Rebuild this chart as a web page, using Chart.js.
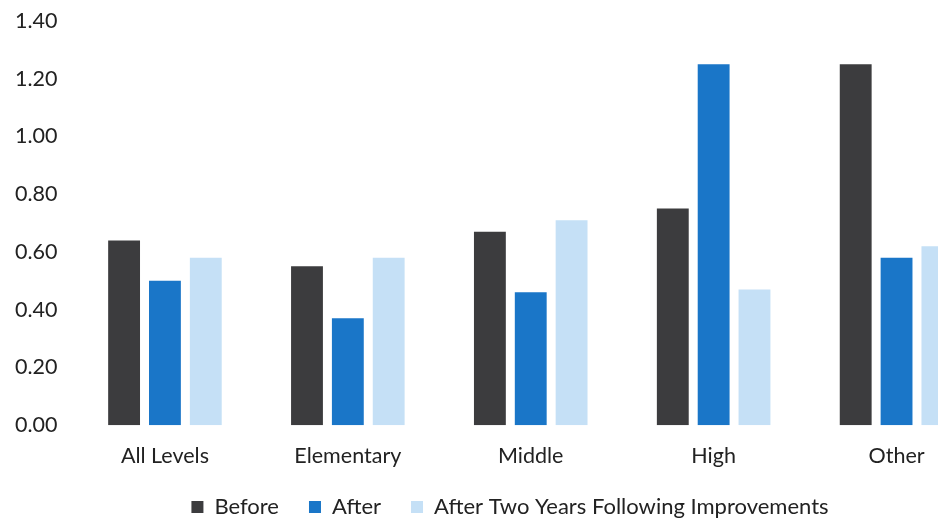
<!DOCTYPE html>
<html>
<head>
<meta charset="utf-8">
<script src="https://cdn.jsdelivr.net/npm/chart.js@4/dist/chart.umd.min.js"></script>
<style>
  html, body { margin: 0; padding: 0; background: #ffffff; overflow: hidden; }
  #wrap { position: relative; width: 1020px; height: 540px; }
</style>
</head>
<body>
<div id="wrap"><canvas id="c"></canvas></div>
<script>
const categories = ["All Levels", "Elementary", "Middle", "High", "Other"];
const seriesNames = ["Before", "After", "After Two Years Following Improvements"];
const beforeValues = [0.64, 0.55, 0.67, 0.75, 1.25];
const afterValues = [0.50, 0.37, 0.46, 1.25, 0.58];
const afterTwoYearsValues = [0.58, 0.58, 0.71, 0.47, 0.62];
const yTicks = [0, 0.2, 0.4, 0.6, 0.8, 1.0, 1.2, 1.4];

const colors = ["#3c3c3e", "#1a76c8", "#c5e0f6"];
const fontFamily = "Lato, 'Open Sans', sans-serif";
const textColor = "#222222";

const legendPad = 30;
const legendFont = 22;
const legendCenterY = 507;
const legendCenterX = 510;

// Re-position the legend box after layout (it keeps its size; only moved).
const legendPlacer = {
  id: "legendPlacer",
  afterLayout(chart) {
    const lg = chart.legend;
    if (!lg) return;
    const newTop = legendCenterY - legendPad - legendFont / 2;
    const dy = newTop - lg.top;
    lg.top += dy; lg.bottom += dy;
    const dx = legendCenterX - (lg.left + lg.right) / 2;
    lg.left += dx; lg.right += dx;
    if (lg.legendHitBoxes) {
      lg.legendHitBoxes.forEach(h => { h.top += dy; h.left += dx; });
    }
  }
};

new Chart(document.getElementById("c"), {
  type: "bar",
  data: {
    labels: categories,
    datasets: [
      { label: seriesNames[0], data: beforeValues, backgroundColor: colors[0] },
      { label: seriesNames[1], data: afterValues, backgroundColor: colors[1] },
      { label: seriesNames[2], data: afterTwoYearsValues, backgroundColor: colors[2] }
    ]
  },
  plugins: [legendPlacer],
  options: {
    responsive: true,
    maintainAspectRatio: false,
    animation: false,
    datasets: { bar: { categoryPercentage: 0.67, barPercentage: 0.78 } },
    layout: { padding: { left: 7, right: 32, top: 5, bottom: 0 } },
    scales: {
      x: {
        grid: { display: false },
        border: { display: false },
        ticks: { color: textColor, font: { family: fontFamily, size: 21.5 }, padding: 9.5 }
      },
      y: {
        min: 0,
        max: 1.4,
        afterBuildTicks: (axis) => { axis.ticks = yTicks.map(v => ({ value: v })); },
        grid: { display: false },
        border: { display: false },
        ticks: {
          color: textColor,
          font: { family: fontFamily, size: 21.5 },
          padding: 8,
          callback: (v) => Number(v).toFixed(2)
        }
      }
    },
    plugins: {
      tooltip: { enabled: false },
      legend: {
        position: "bottom",
        labels: {
          color: textColor,
          font: { family: fontFamily, size: legendFont },
          boxWidth: 12,
          boxHeight: 12,
          padding: legendPad
        }
      }
    }
  }
});
</script>
</body>
</html>
